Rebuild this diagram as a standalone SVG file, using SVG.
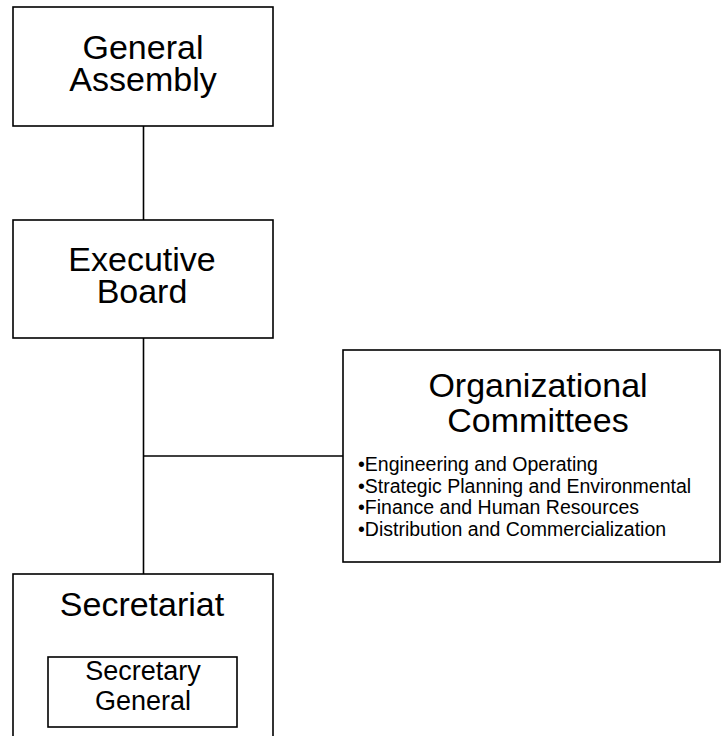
<svg xmlns="http://www.w3.org/2000/svg" width="721" height="736" viewBox="0 0 721 736">
<style>
.box{fill:#fff;stroke:#000;stroke-width:1.6}
.conn{fill:none;stroke:#000;stroke-width:1.6}
text{font-family:"Liberation Sans",Arial,sans-serif;fill:#000}
.big{font-size:34px;text-anchor:middle}
.mid{font-size:27px;text-anchor:middle}
.small{font-size:19.5px}
</style>
<rect width="721" height="736" fill="#fff"/>
<g id="connectors">
<line class="conn" x1="143.5" y1="126" x2="143.5" y2="220"/>
<line class="conn" x1="143.5" y1="338" x2="143.5" y2="574"/>
<line class="conn" x1="143.5" y1="456" x2="343" y2="456"/>
</g>
<g id="general-assembly">
<rect class="box" x="13" y="7" width="260" height="119"/>
<text class="big" x="143" y="59">General</text>
<text class="big" x="143" y="91">Assembly</text>
</g>
<g id="executive-board">
<rect class="box" x="13" y="220" width="260" height="118"/>
<text class="big" x="142" y="271">Executive</text>
<text class="big" x="142" y="303">Board</text>
</g>
<g id="organizational-committees">
<rect class="box" x="343" y="350" width="377" height="212"/>
<text class="big" x="538" y="397">Organizational</text>
<text class="big" x="538" y="432">Committees</text>
<text class="small" x="358" y="471">•Engineering and Operating</text>
<text class="small" x="358" y="493">•Strategic Planning and Environmental</text>
<text class="small" x="358" y="514">•Finance and Human Resources</text>
<text class="small" x="358" y="536">•Distribution and Commercialization</text>
</g>
<g id="secretariat">
<rect class="box" x="13" y="574" width="260" height="170"/>
<text class="big" x="142" y="616">Secretariat</text>
</g>
<g id="secretary-general">
<rect class="box" x="48" y="657" width="189" height="70"/>
<text class="mid" x="143" y="680">Secretary</text>
<text class="mid" x="143" y="710">General</text>
</g>
</svg>
